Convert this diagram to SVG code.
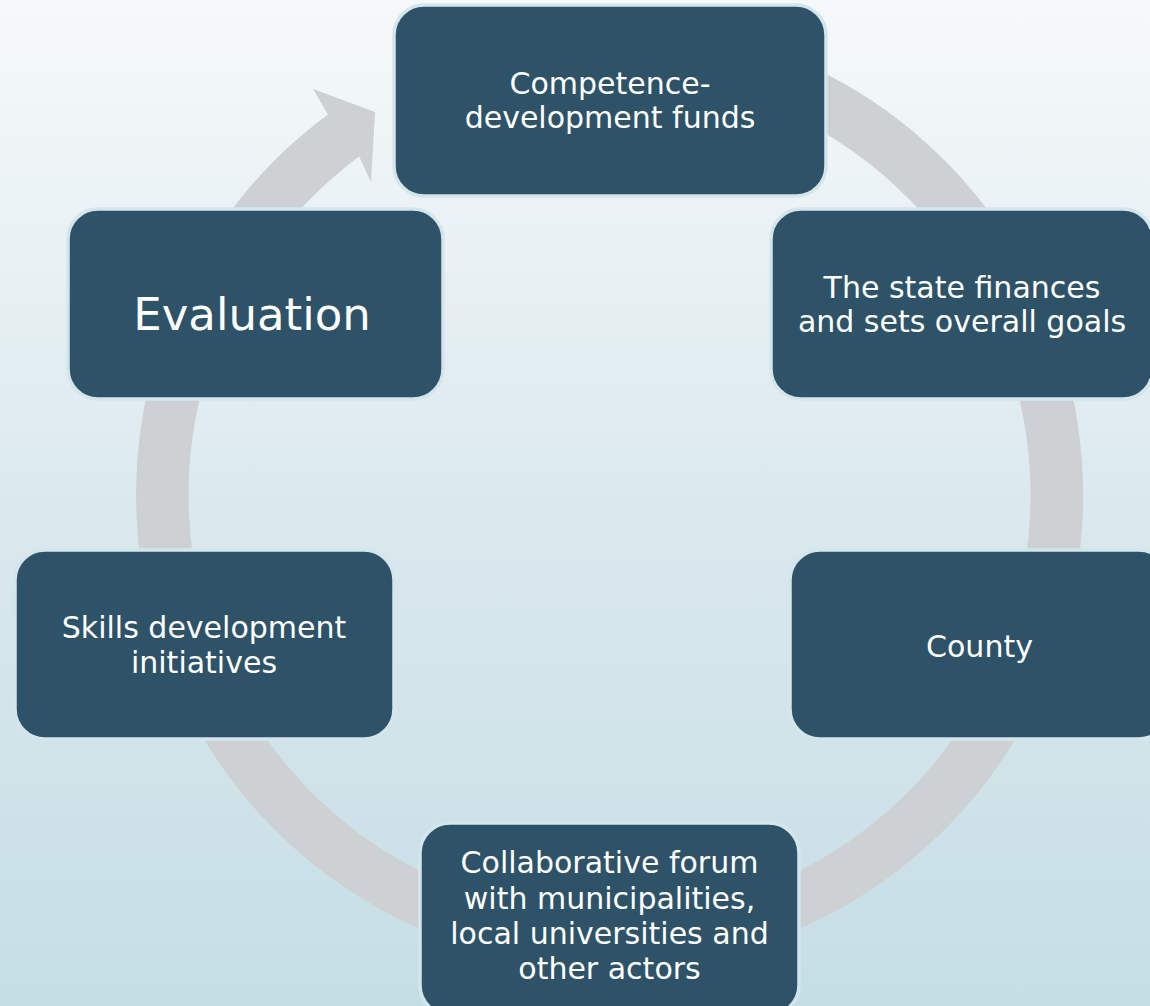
<svg xmlns="http://www.w3.org/2000/svg" width="1150" height="1006" viewBox="0 0 1150 1006">
  <defs>
    <linearGradient id="bg" x1="0" y1="0" x2="0" y2="1">
      <stop offset="0" stop-color="#f6f9fa"/>
      <stop offset="0.5" stop-color="#dbe9ee"/>
      <stop offset="1" stop-color="#c5dee5"/>
    </linearGradient>
    <style>
      .node rect { fill: #2e5368; stroke: #d4e6ec; stroke-width: 3.5; }
      .node text { fill: #ffffff; font-family: "DejaVu Sans", "Liberation Sans", sans-serif; font-size: 30px; text-anchor: middle; }
      .ring { fill: #cdd1d4; }
    </style>
  </defs>

  <!-- backdrop -->
  <rect x="0" y="0" width="1150" height="1006" fill="url(#bg)"/>

  <!-- circular cycle arrow (centre 609.5,495; radii 421..473.5) -->
  <g id="connectors">
    <path class="ring" d="M 527.3 28.7
      A 473.5 473.5 0 1 1 327.9 114.4
      L 313 89 L 375 112 L 371 182 L 359.1 156.6
      A 421 421 0 1 0 536.4 80.4 Z"/>
  </g>

  <g id="node-funds" class="node">
    <rect x="394" y="5" width="432" height="191" rx="30"/>
    <text x="610" y="94">Competence-</text>
    <text x="610" y="128">development funds</text>
  </g>

  <g id="node-state" class="node">
    <rect x="771" y="209" width="382" height="190" rx="30"/>
    <text x="962" y="298">The state finances</text>
    <text x="962" y="332">and sets overall goals</text>
  </g>

  <g id="node-county" class="node">
    <rect x="790" y="550" width="379" height="189" rx="30"/>
    <text x="979.5" y="657">County</text>
  </g>

  <g id="node-forum" class="node">
    <rect x="420" y="823" width="379" height="192" rx="30"/>
    <text x="609.5" y="873">Collaborative forum</text>
    <text x="609.5" y="909">with municipalities,</text>
    <text x="609.5" y="944">local universities and</text>
    <text x="609.5" y="979">other actors</text>
  </g>

  <g id="node-skills" class="node">
    <rect x="15" y="550" width="379" height="189" rx="30"/>
    <text x="204" y="638">Skills development</text>
    <text x="204" y="673">initiatives</text>
  </g>

  <g id="node-evaluation" class="node">
    <rect x="68" y="209" width="375" height="190" rx="30"/>
    <text x="252" y="330" style="font-size:45px">Evaluation</text>
  </g>
</svg>
